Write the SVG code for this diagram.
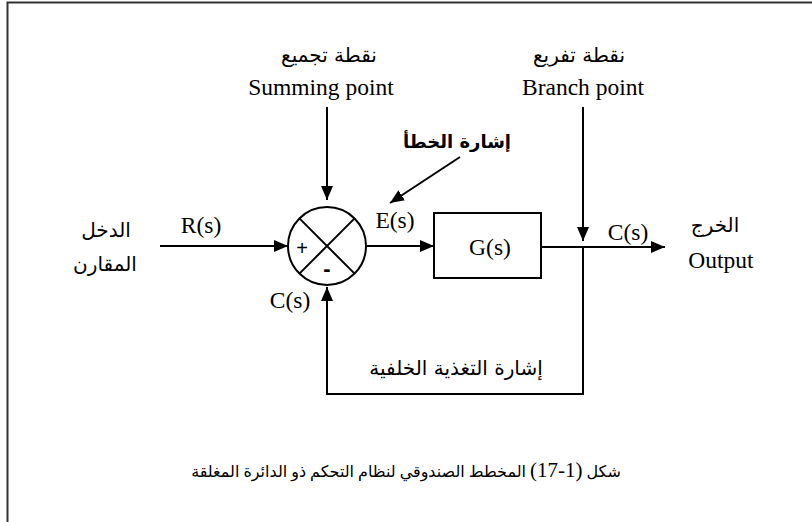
<svg xmlns="http://www.w3.org/2000/svg" width="812" height="522" viewBox="0 0 812 522">
<defs>
<style>
.ln{stroke:#000;stroke-width:2;fill:none}
.en{font-family:"Liberation Serif","Times New Roman",serif;font-size:23.5px;fill:#000}
.ar{font-family:"DejaVu Sans","Noto Sans",sans-serif;font-size:20px;fill:#000}
.mix{font-family:"Liberation Serif","DejaVu Sans",serif;font-size:16px;fill:#000}
</style>
<marker id="ah" markerUnits="userSpaceOnUse" markerWidth="16" markerHeight="14" refX="14" refY="6" orient="auto">
<path d="M0,0 L14,6 L0,12 Z" fill="#000"/>
</marker>
</defs>
<rect width="812" height="522" fill="#fff"/>
<path d="M7.5,522 V2.5 H812" stroke="#333" stroke-width="2" fill="none"/>

<g id="connectors">
<line class="ln" x1="160" y1="246" x2="288" y2="246" marker-end="url(#ah)"/>
<line class="ln" x1="327" y1="107" x2="327" y2="200" marker-end="url(#ah)"/>
<line class="ln" x1="583" y1="107" x2="583" y2="241" marker-end="url(#ah)"/>
<line class="ln" x1="460" y1="157" x2="390" y2="203" marker-end="url(#ah)"/>
<line class="ln" x1="366" y1="246" x2="434" y2="246" marker-end="url(#ah)"/>
<line class="ln" x1="541" y1="247" x2="665" y2="247" marker-end="url(#ah)"/>
<polyline class="ln" points="583,247 583,394 327,394 327,287" marker-end="url(#ah)"/>
</g>

<g id="summing">
<circle class="ln" cx="327" cy="246" r="39"/>
<line class="ln" x1="299.4" y1="218.4" x2="354.6" y2="273.6"/>
<line class="ln" x1="354.6" y1="218.4" x2="299.4" y2="273.6"/>
<text x="302" y="255" text-anchor="middle" style="font-family:'Liberation Sans',sans-serif;font-size:20px">+</text>
<text x="327" y="276" text-anchor="middle" style="font-family:'Liberation Sans',sans-serif;font-size:22px;font-weight:bold">-</text>
</g>

<g id="G">
<rect class="ln" x="434" y="213" width="107" height="65"/>
<text class="en" x="490" y="255" text-anchor="middle">G(s)</text>
</g>

<g id="labels">
<text class="ar" x="329" y="62" text-anchor="middle" direction="rtl">نقطة تجميع</text>
<text class="en" x="321" y="95" text-anchor="middle">Summing point</text>
<text class="ar" x="579" y="62" text-anchor="middle" direction="rtl">نقطة تفريع</text>
<text class="en" x="583" y="95" text-anchor="middle">Branch point</text>
<text class="ar" x="457" y="148" text-anchor="middle" direction="rtl" style="font-weight:bold;font-size:18px">إشارة الخطأ</text>
<text class="en" x="201" y="233" text-anchor="middle">R(s)</text>
<text class="en" x="395" y="228" text-anchor="middle">E(s)</text>
<text class="en" x="628" y="240" text-anchor="middle">C(s)</text>
<text class="en" x="290" y="308" text-anchor="middle">C(s)</text>
<text class="ar" x="106" y="237" text-anchor="middle" direction="rtl">الدخل</text>
<text class="ar" x="105" y="271" text-anchor="middle" direction="rtl">المقارن</text>
<text class="ar" x="715" y="232" text-anchor="middle" direction="rtl">الخرج</text>
<text class="en" x="721" y="268" text-anchor="middle">Output</text>
<text class="ar" x="456" y="375" text-anchor="middle" direction="rtl">إشارة التغذية الخلفية</text>
<text class="mix" x="406" y="477" text-anchor="middle" direction="rtl">شكل <tspan style="font-size:21px">(1-17)</tspan> المخطط الصندوقي لنظام التحكم ذو الدائرة المغلقة</text>
</g>
</svg>
